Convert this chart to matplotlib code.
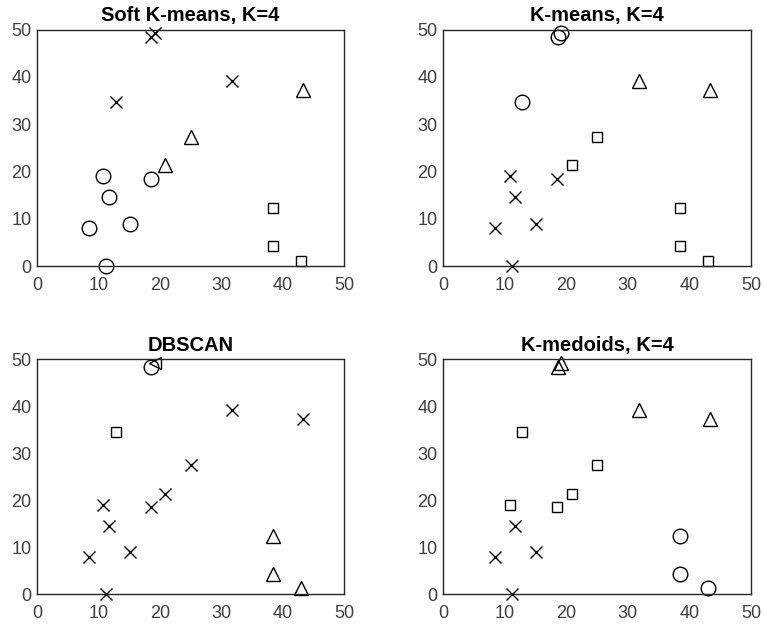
import matplotlib.pyplot as plt

plt.rcParams['font.family'] = ['Liberation Sans', 'DejaVu Sans']

# the 16 points shared by all panels
x = [18.6, 19.2, 12.8, 31.8, 43.3, 25.0, 20.9, 10.8, 18.5, 11.7, 8.5, 15.1, 11.2, 38.5, 38.5, 43.0]
y = [48.4, 49.3, 34.6, 39.1, 37.3, 27.4, 21.4, 19.0, 18.5, 14.6, 8.0, 9.0, 0.0, 12.3, 4.3, 1.2]

titles = ['Soft K-means, K=4', 'K-means, K=4', 'DBSCAN', 'K-medoids, K=4']

# marker of each point in each panel (cluster assignment)
soft_kmeans = ['x', 'x', 'x', 'x', '^', '^', '^', 'o', 'o', 'o', 'o', 'o', 'o', 's', 's', 's']
kmeans      = ['o', 'o', 'o', '^', '^', 's', 's', 'x', 'x', 'x', 'x', 'x', 'x', 's', 's', 's']
dbscan      = ['o', '<', 's', 'x', 'x', 'x', 'x', 'x', 'x', 'x', 'x', 'x', 'x', '^', '^', '^']
kmedoids    = ['^', '^', 's', '^', '^', 's', 's', 's', 's', 'x', 'x', 'x', 'x', 'o', 'o', 'o']
labels = [soft_kmeans, kmeans, dbscan, kmedoids]

sizes = {'x': 8, 'o': 10.5, 's': 6.5, '^': 10.5, '<': 9}

fig = plt.figure(figsize=(7.64, 6.28), dpi=100)
pos = [[0.0484, 0.576, 0.402, 0.377],
       [0.580, 0.576, 0.403, 0.377],
       [0.0484, 0.054, 0.402, 0.374],
       [0.580, 0.054, 0.403, 0.374]]

for k in range(4):
    ax = fig.add_axes(pos[k])
    for m in sorted(set(labels[k])):
        xs = [x[i] for i in range(len(x)) if labels[k][i] == m]
        ys = [y[i] for i in range(len(y)) if labels[k][i] == m]
        ax.plot(xs, ys, m, color='black', markerfacecolor='none',
                markersize=sizes[m], markeredgewidth=1.0, clip_on=False)
    ax.set_xlim(0, 50)
    ax.set_ylim(0, 50)
    ax.set_xticks([0, 10, 20, 30, 40, 50])
    ax.set_yticks([0, 10, 20, 30, 40, 50])
    ax.tick_params(length=0, labelsize=13, labelcolor='#404040', pad=8)
    ax.tick_params(axis='y', pad=4)
    for s in ax.spines.values():
        s.set_color('#262626')
        s.set_linewidth(1.0)
    ax.set_title(titles[k], fontsize=14.5, fontweight='bold', pad=6)

fig.savefig('out.png', dpi=100)
